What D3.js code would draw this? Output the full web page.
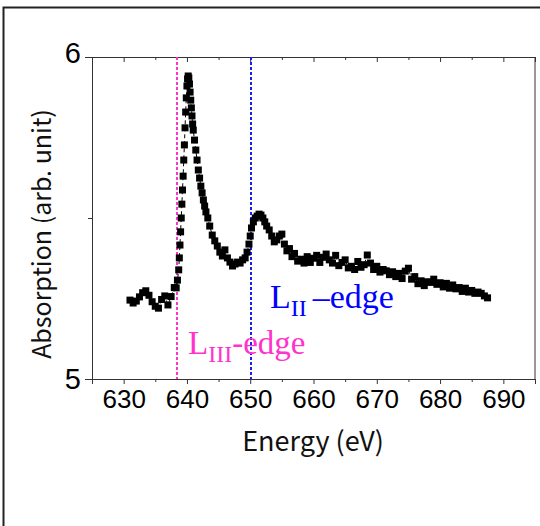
<!DOCTYPE html>
<html>
<head>
<meta charset="utf-8">
<script src="https://cdn.jsdelivr.net/npm/d3@7"></script>
<style>
  body { margin: 0; background: #fff; }
</style>
</head>
<body>
<div id="chart"></div>
<script>
// XAS spectrum, values
var energy = [
  631.0, 631.5, 632.0, 632.5, 633.0, 633.5, 634.0, 634.5, 635.0, 635.5,
  636.0, 636.5, 637.0, 637.5, 638.0,
  638.3, 638.5, 638.7, 638.8, 638.9, 639.0, 639.1, 639.2, 639.3, 639.4,
  639.5, 639.6, 639.7, 639.8, 639.9, 640.0, 640.1, 640.2, 640.3, 640.4,
  640.5, 640.6, 640.7, 640.8, 640.9, 641.0, 641.2, 641.4, 641.6, 641.8,
  642.0, 642.2, 642.4, 642.6, 642.8, 643.0, 643.3, 643.6, 644.0, 644.4,
  644.8, 645.2, 645.6, 646.0, 646.4, 646.8, 647.2, 647.6, 648.0, 648.4,
  648.8, 649.2, 649.5, 649.8, 650.0, 650.2, 650.5, 650.8, 651.1, 651.4,
  651.7, 652.0, 652.3, 652.6, 653.0, 653.4, 653.8, 654.2, 654.6, 655.0,
  655.4, 655.8, 656.2, 656.6, 657.0, 657.5, 658.0, 658.5, 659.0, 659.5,
  660.0, 660.5, 661.0, 661.5, 662.0, 662.5, 663.0, 663.5, 664.0, 664.5,
  665.0, 665.5, 666.0, 666.5, 667.0, 667.5, 668.0, 668.5, 669.0, 669.5,
  670.0, 670.5, 671.0, 671.5, 672.0, 672.5, 673.0, 673.5, 674.0, 674.5,
  675.0, 675.5, 676.0, 676.5, 677.0, 677.5, 678.0, 678.5, 679.0, 679.5,
  680.0, 680.5, 681.0, 681.5, 682.0, 682.5, 683.0, 683.5, 684.0, 684.5,
  685.0, 685.5, 686.0, 686.5, 687.0, 687.5
];
var absorption = [
  5.245, 5.236, 5.242, 5.255, 5.268, 5.274, 5.260, 5.240, 5.226, 5.220,
  5.247, 5.258, 5.230, 5.256, 5.284,
  5.283, 5.307, 5.339, 5.376, 5.416, 5.457, 5.500, 5.543, 5.587, 5.630,
  5.680, 5.727, 5.780, 5.829, 5.873, 5.910, 5.932, 5.941, 5.935, 5.916,
  5.891, 5.866, 5.842, 5.817, 5.792, 5.773, 5.742, 5.711, 5.680, 5.649,
  5.624, 5.599, 5.578, 5.556, 5.537, 5.519, 5.500, 5.475, 5.447, 5.429,
  5.413, 5.394, 5.382, 5.401, 5.376, 5.363, 5.351, 5.357, 5.363, 5.360,
  5.370, 5.376, 5.394, 5.419, 5.444, 5.469, 5.488, 5.500, 5.506, 5.512,
  5.509, 5.500, 5.488, 5.475, 5.463, 5.444, 5.426, 5.432, 5.444, 5.450,
  5.419, 5.398, 5.405, 5.380, 5.390, 5.366, 5.372, 5.360, 5.380, 5.362,
  5.375, 5.384, 5.362, 5.378, 5.388, 5.370, 5.360, 5.384, 5.352, 5.362,
  5.370, 5.345, 5.350, 5.340, 5.365, 5.347, 5.355, 5.385, 5.360, 5.340,
  5.350, 5.332, 5.340, 5.336, 5.324, 5.333, 5.318, 5.328, 5.312, 5.335,
  5.344, 5.310, 5.318, 5.296, 5.305, 5.290, 5.302, 5.300, 5.310, 5.294,
  5.299, 5.286, 5.297, 5.282, 5.292, 5.280, 5.284, 5.272, 5.282, 5.270,
  5.275, 5.266, 5.270, 5.266, 5.258, 5.252
];

var xTicks = [630, 640, 650, 660, 670, 680, 690];
var yTicks = [5, 6];
var edgeNames = ['III', 'II'];
var edgeEnergy = [638.4, 650.2];

var width = 540,
    height = 526;

var margin = {top: 57, right: 5, bottom: 147, left: 92};
var innerW = width - margin.left - margin.right,
    innerH = height - margin.top - margin.bottom;

var svg = d3.select('#chart').append('svg')
    .attr('width', width)
    .attr('height', height);

svg.append('rect')
    .attr('width', width)
    .attr('height', height)
    .attr('fill', '#fff');

// outer frame (runs off the right/bottom of the picture)
svg.append('rect')
    .attr('x', 3.5)
    .attr('y', 7.5)
    .attr('width', 700)
    .attr('height', 700)
    .attr('fill', 'none')
    .attr('stroke', '#222')
    .attr('stroke-width', 2);

var g = svg.append('g')
    .attr('transform', 'translate(' + margin.left + ',' + margin.top + ')');

var x = d3.scaleLinear().domain([625, 695]).range([0, innerW]);
var y = d3.scaleLinear().domain([5, 6]).range([innerH, 0]);

var data = energy.map(function(e, i) { return {e: e, v: absorption[i]}; });

var minorX = d3.range(625, 696, 5);

// bottom axis
var xAxis = d3.axisBottom(x)
    .tickValues(minorX)
    .tickSizeOuter(0)
    .tickSize(5)
    .tickPadding(6)
    .tickFormat(function(d) { return xTicks.indexOf(d) >= 0 ? d : ''; });

var gx = g.append('g')
    .attr('transform', 'translate(0,' + innerH + ')')
    .call(xAxis);
gx.selectAll('.tick line')
    .attr('y2', function(d) { return d % 10 === 0 ? 5 : 3; });
gx.selectAll('.tick text')
    .attr('font-family', '"Liberation Sans", Arial, sans-serif')
    .attr('font-size', '26px')
    .attr('fill', '#000');

// top axis, ticks inward
var gt = g.append('g')
    .call(d3.axisTop(x).tickValues(minorX).tickSizeOuter(0).tickSize(-5).tickFormat(''));
gt.selectAll('.tick line')
    .attr('y2', function(d) { return d % 10 === 0 ? 5 : 3; });

// left axis
var gy = g.append('g')
    .call(d3.axisLeft(y).tickValues([5, 5.5, 6]).tickSizeOuter(0).tickSize(7).tickPadding(4)
        .tickFormat(function(d) { return yTicks.indexOf(d) >= 0 ? d : ''; }));
gy.selectAll('.tick line')
    .attr('x2', function(d) { return d === 5.5 ? -4 : -7; });
gy.selectAll('.tick text')
    .attr('font-family', '"Liberation Sans", Arial, sans-serif')
    .attr('font-size', '29px')
    .attr('fill', '#000')
    .attr('dy', function(d) { return d === 6 ? '0.2em' : '0.34em'; });

// right axis line
g.append('line')
    .attr('x1', innerW).attr('x2', innerW)
    .attr('y1', 0).attr('y2', innerH)
    .attr('stroke', '#333');

g.selectAll('.domain').attr('stroke', '#333');
g.selectAll('.tick line').attr('stroke', '#333');

// edge markers
var edgeColor = ['#ff33cc', '#1a1aff'];
g.selectAll('.edge')
    .data(edgeEnergy)
    .enter().append('line')
    .attr('class', 'edge')
    .attr('x1', function(d) { return Math.round(x(d)); })
    .attr('x2', function(d) { return Math.round(x(d)); })
    .attr('y1', 0)
    .attr('y2', innerH)
    .attr('stroke', function(d, i) { return edgeColor[i]; })
    .attr('stroke-width', 2)
    .attr('stroke-dasharray', '3,2');

// dashed connecting line
var line = d3.line()
    .x(function(d) { return x(d.e); })
    .y(function(d) { return y(d.v); });

g.append('path')
    .datum(data)
    .attr('d', line)
    .attr('fill', 'none')
    .attr('stroke', '#000')
    .attr('stroke-width', 1)
    .attr('stroke-dasharray', '4,3');

g.selectAll('.pt')
    .data(data)
    .enter().append('rect')
    .attr('class', 'pt')
    .attr('x', function(d) { return x(d.e) - 3.5; })
    .attr('y', function(d) { return y(d.v) - 3.5; })
    .attr('width', 7)
    .attr('height', 7)
    .attr('fill', '#000');

// edge labels
var serif = '"Liberation Serif", "Times New Roman", serif';

var t3 = svg.append('text')
    .attr('x', 188)
    .attr('y', 354)
    .attr('font-family', serif)
    .attr('font-size', '33px')
    .attr('fill', edgeColor[0]);
t3.append('tspan').text('L');
t3.append('tspan').attr('font-size', '24px').attr('dy', 8).text(edgeNames[0]);
t3.append('tspan').attr('dy', -8).text('-edge');

var t2 = svg.append('text')
    .attr('x', 270)
    .attr('y', 308)
    .attr('font-family', serif)
    .attr('font-size', '34px')
    .attr('fill', '#0000ff');
t2.append('tspan').text('L');
t2.append('tspan').attr('font-size', '24px').attr('dy', 8).text(edgeNames[1] + ' ');
t2.append('tspan').attr('dy', -8).text('\u2013edge');

// axis titles
var sans = '"Noto Sans CJK JP", "Noto Sans", sans-serif';

svg.append('text')
    .attr('x', 313)
    .attr('y', 451)
    .attr('text-anchor', 'middle')
    .attr('font-family', sans)
    .attr('font-size', '27px')
    .attr('fill', '#111')
    .text('Energy (eV)');

svg.append('text')
    .attr('transform', 'translate(51,234) rotate(-90)')
    .attr('text-anchor', 'middle')
    .attr('font-family', sans)
    .attr('font-size', '25px')
    .attr('fill', '#111')
    .text('Absorption (arb. unit)');
</script>
</body>
</html>
